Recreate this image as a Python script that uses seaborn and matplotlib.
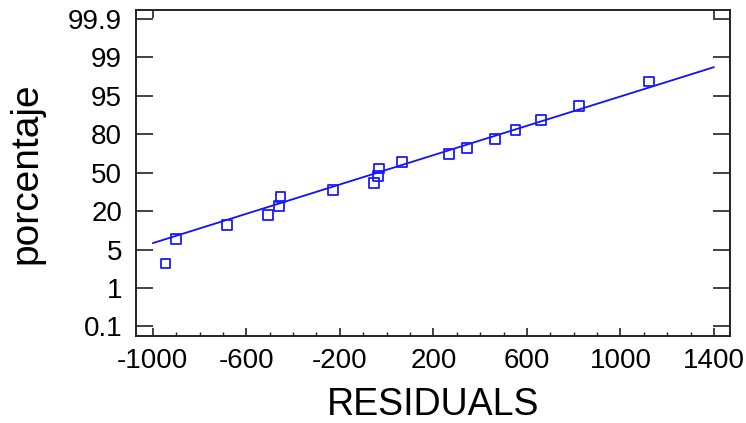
import matplotlib
matplotlib.use("Agg")
import matplotlib.pyplot as plt
import seaborn as sns
import pandas as pd
import numpy as np

# residuals and cumulative percentages
residuals = [-946, -902, -684, -508, -459, -454, -230, -54, -37, -32,
             66, 267, 344, 464, 551, 662, 824, 1121]
percent = [3.55, 9.08, 14.66, 18.56, 24.14, 30.92, 36.38, 42.08, 47.39, 53.24,
           58.22, 64.46, 69.14, 76.16, 81.59, 85.61, 91.07, 96.48]

# reference line (ends of the fitted line)
fit_x = [-1000, 1400]
fit_pct = [7.52, 97.98]

# probability axis labels (drawn evenly spaced)
prob_ticks = [0.1, 1, 5, 20, 50, 80, 95, 99, 99.9]
prob_labels = ["0.1", "1", "5", "20", "50", "80", "95", "99", "99.9"]
x_ticks = [-1000, -600, -200, 200, 600, 1000, 1400]


def to_pos(p):
    # percentage -> position on the evenly spaced probability axis
    return np.interp(p, prob_ticks, np.arange(len(prob_ticks)))


sns.set_theme(style="ticks")
plt.rcParams['font.family'] = ['Liberation Sans', 'DejaVu Sans']
plt.rcParams['axes.unicode_minus'] = False

df = pd.DataFrame({'residual': residuals, 'pos': to_pos(percent)})
line_df = pd.DataFrame({'residual': fit_x, 'pos': to_pos(fit_pct)})

fig = plt.figure(figsize=(7.46, 4.23), dpi=100)
ax = fig.add_axes([0.1823, 0.2064, 0.7963, 0.7707])

sns.lineplot(data=line_df, x='residual', y='pos', ax=ax, color='#1010ff', linewidth=1.3)
sns.scatterplot(data=df, x='residual', y='pos', ax=ax, marker='s', s=50,
                facecolor='none', edgecolor='#1a1aff', linewidth=1.3, zorder=3)

ax.set_xlim(-1072, 1469)
ax.set_ylim(-0.24, 8.24)
ax.set_xticks(x_ticks)
ax.set_xticks(np.arange(-1000, 1401, 100), minor=True)
ax.set_yticks(np.arange(len(prob_ticks)))
ax.set_yticklabels(prob_labels)

ax.tick_params(axis='y', direction='in', length=12, width=1.2, labelsize=20, pad=10,
               right=True, color='#222222', labelcolor='black')
ax.tick_params(axis='x', which='major', direction='in', length=6, width=1.2,
               labelsize=20, pad=9, color='#222222', labelcolor='black')
ax.tick_params(axis='x', which='minor', direction='in', length=3, width=1.0, color='#222222')

top = ax.secondary_xaxis('top')
top.set_xticks([x_ticks[0], x_ticks[-1]])
top.tick_params(direction='in', length=6, width=1.2, labeltop=False, color='#222222')
top.spines['top'].set_visible(False)

for s in ax.spines.values():
    s.set_visible(True)
    s.set_linewidth(1.4)
    s.set_color('#222222')

ax.set_xlabel("RESIDUALS", fontsize=27, labelpad=9, color='black')
ax.set_ylabel("porcentaje", fontsize=28, labelpad=17, color='black')

fig.savefig("out.png", dpi=100)
